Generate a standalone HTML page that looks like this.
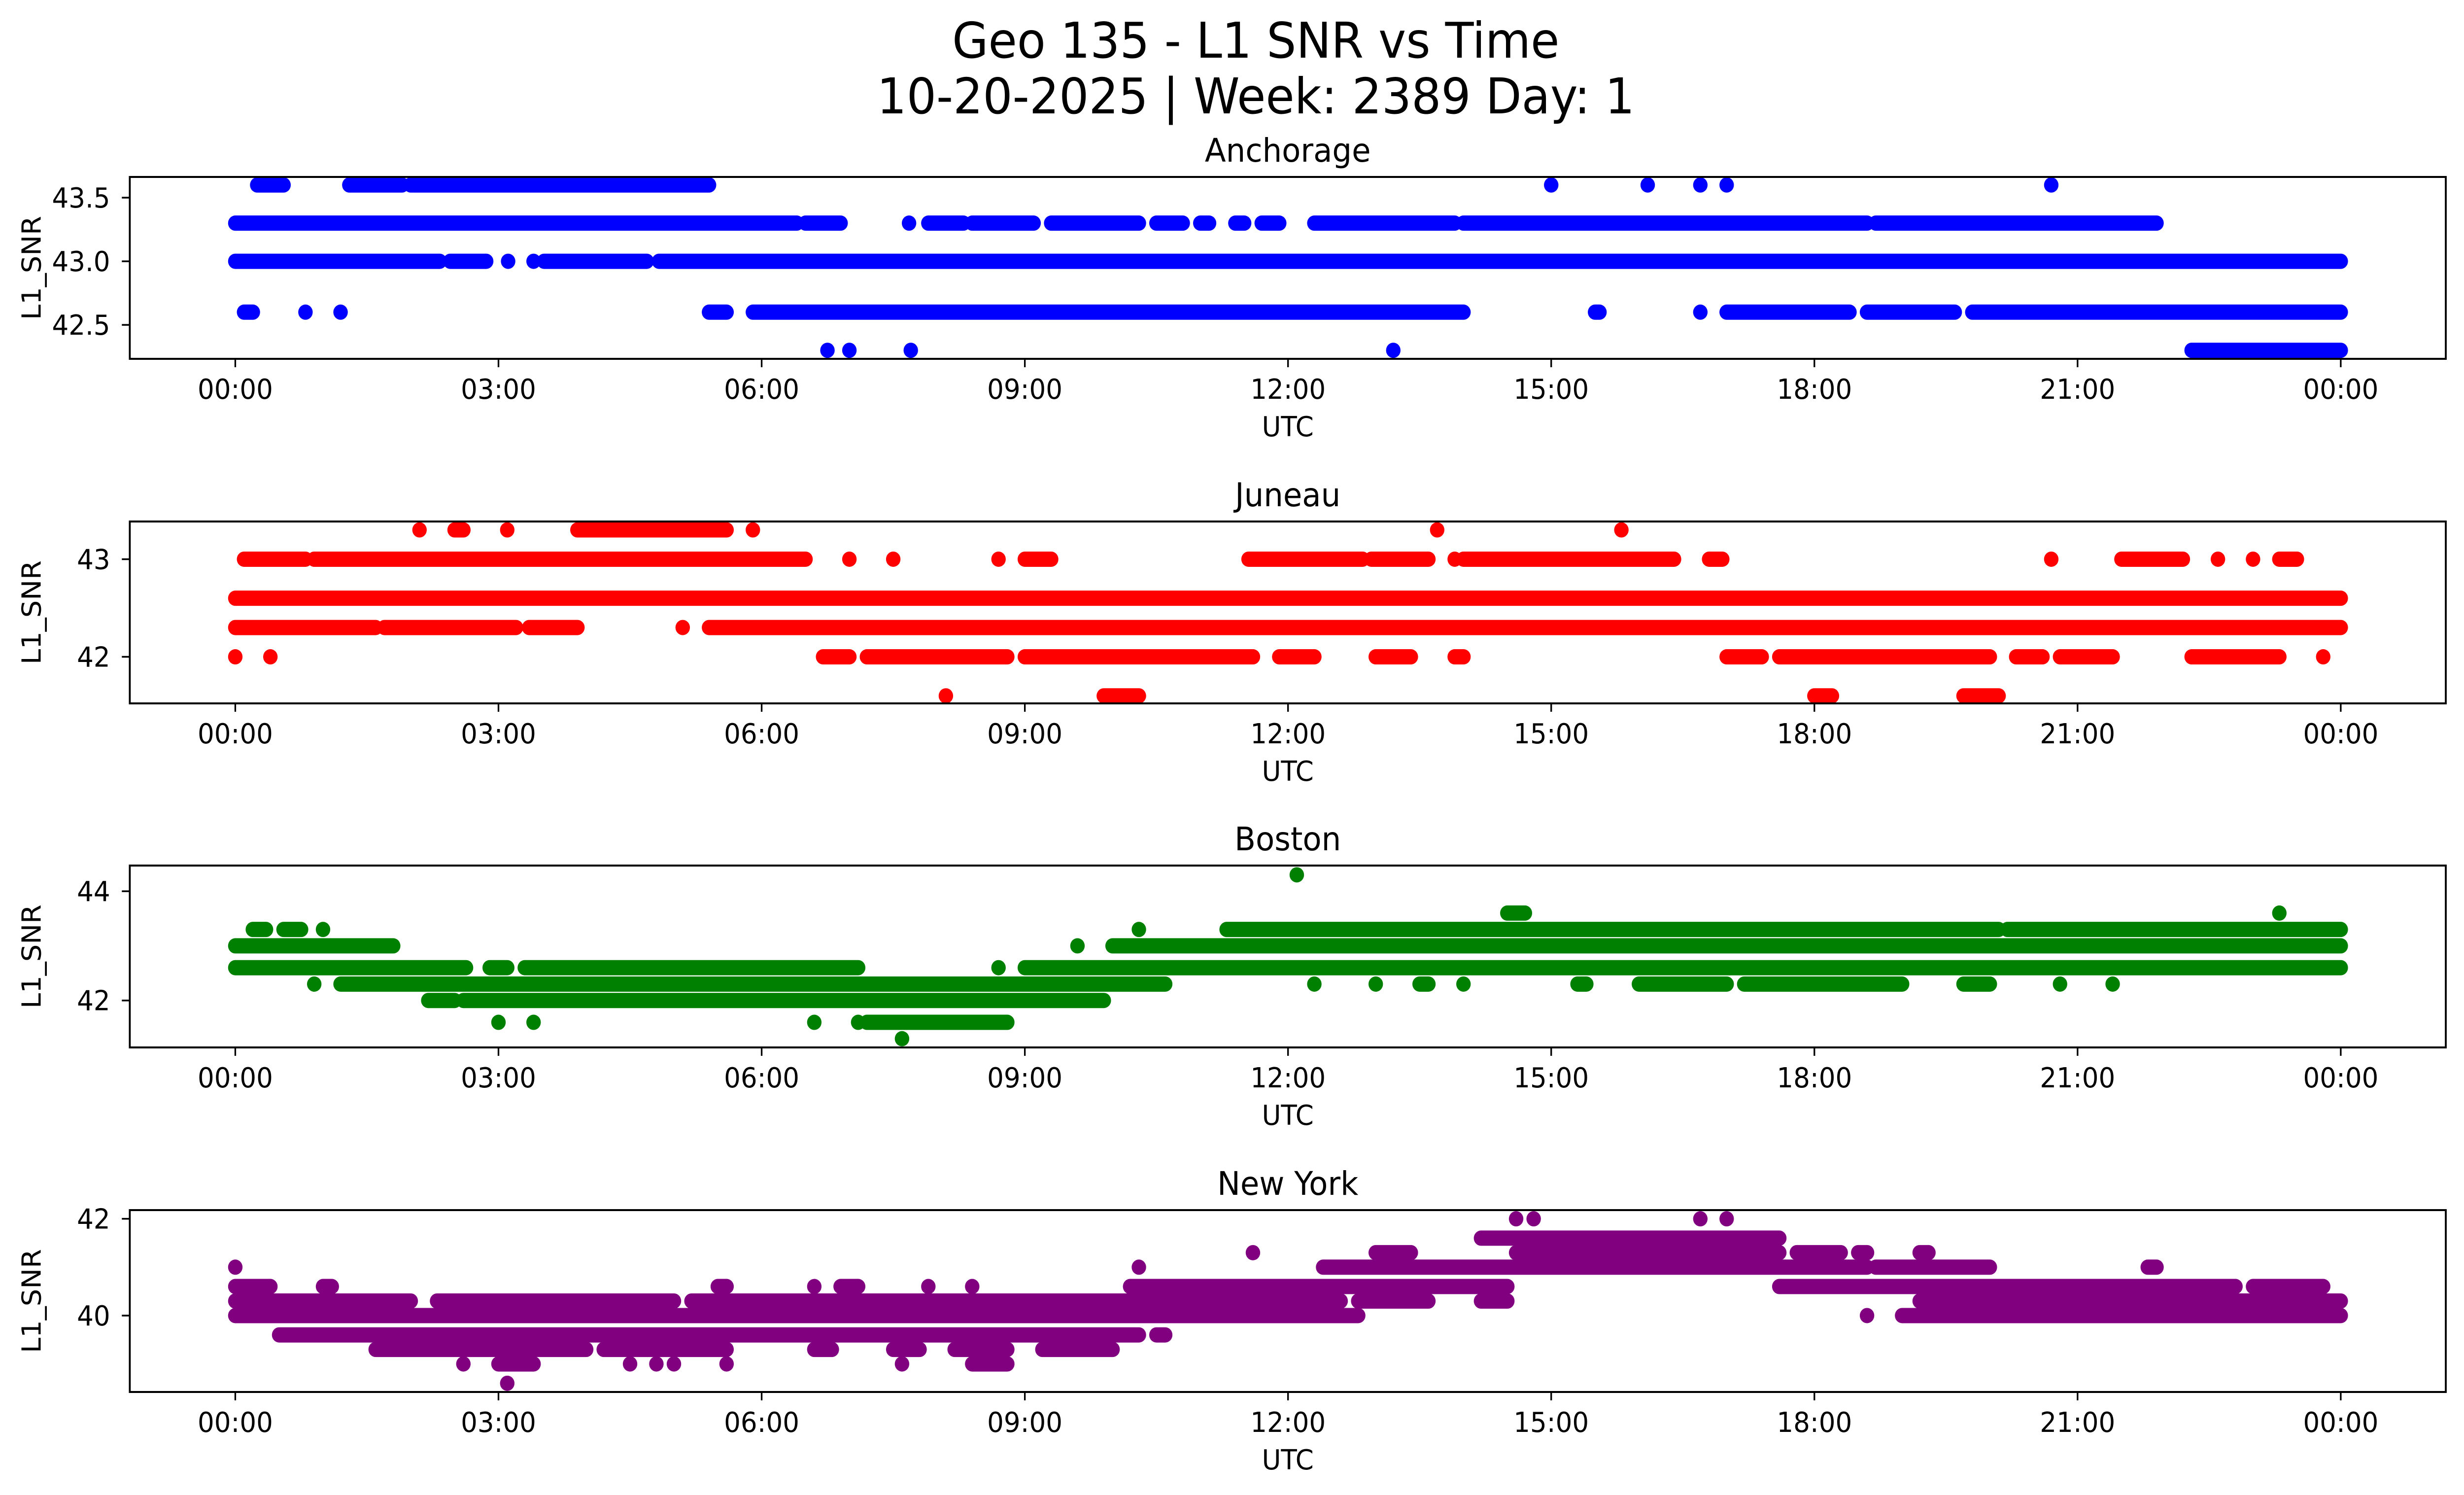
<!DOCTYPE html>
<html><head><meta charset="utf-8"><style>
html,body{margin:0;padding:0;background:#fff;overflow:hidden;width:100%;height:100%}
svg{display:block;position:absolute;left:0;top:0;width:100vw;height:100vh}
text{font-family:"DejaVu Sans","Liberation Sans",sans-serif;fill:#000}
</style></head><body>
<svg id="fig" xmlns="http://www.w3.org/2000/svg" viewBox="0 0 5278 3033" preserveAspectRatio="none">
<rect width="5278" height="3033" fill="#fff"/>
<text x="2690" y="117" font-size="100" text-anchor="middle">Geo 135 - L1 SNR vs Time</text>
<text x="2690" y="230" font-size="100" text-anchor="middle">10-20-2025 | Week: 2389 Day: 1</text>
<g id="plots"></g>
</svg>
<script>
// ---- data (hours UTC, SNR levels, runs of consecutive samples [startHour,endHour]) ----
const stations = ["Anchorage","Juneau","Boston","New York"];
const colors = ["#0000ff","#ff0000","#008000","#800080"];
const xTickLabels = ["00:00","03:00","06:00","09:00","12:00","15:00","18:00","21:00","00:00"];
const xTickHours = [0,3,6,9,12,15,18,21,24];

const anchLevels = [42.3,42.6,43.0,43.3,43.6];
const anchRuns = [
 [[6.75,6.75],[7.0,7.0],[7.7,7.7],[13.2,13.2],[22.3,24]],
 [[0.1,0.2],[0.8,0.8],[1.2,1.2],[5.4,5.6],[5.9,14.0],[15.5,15.55],[16.7,16.7],[17.0,18.4],[18.6,19.6],[19.8,24]],
 [[0,2.33],[2.45,2.86],[3.11,3.11],[3.4,3.4],[3.52,4.69],[4.83,24]],
 [[0,6.4],[6.5,6.9],[7.68,7.68],[7.9,8.3],[8.4,9.1],[9.3,10.3],[10.5,10.8],[11.0,11.1],[11.4,11.5],[11.7,11.9],[12.3,13.9],[14.0,18.6],[18.7,21.9]],
 [[0.25,0.55],[1.3,1.9],[2.0,5.4],[15.0,15.0],[16.1,16.1],[16.7,16.7],[17.0,17.0],[20.7,20.7]]
];
const junLevels = [41.6,42.0,42.3,42.6,43.0,43.3];
const junRuns = [
 [[8.1,8.1],[9.9,10.3],[18.0,18.2],[19.7,20.1]],
 [[0,0],[0.4,0.4],[6.7,7.0],[7.2,8.8],[9.0,11.6],[11.9,12.3],[13.0,13.4],[13.9,14.0],[17.0,17.4],[17.6,20.0],[20.3,20.6],[20.8,21.4],[22.3,23.3],[23.8,23.8]],
 [[0,1.6],[1.7,3.2],[3.35,3.9],[5.1,5.1],[5.4,24]],
 [[0,24]],
 [[0.1,0.8],[0.9,6.5],[7.0,7.0],[7.5,7.5],[8.7,8.7],[9.0,9.3],[11.55,12.85],[12.95,13.6],[13.9,13.9],[14.0,16.4],[16.8,16.95],[20.7,20.7],[21.5,22.2],[22.6,22.6],[23.0,23.0],[23.3,23.5]],
 [[2.1,2.1],[2.5,2.6],[3.1,3.1],[3.9,5.6],[5.9,5.9],[13.7,13.7],[15.8,15.8]]
];
const bosLevels = [41.3,41.6,42.0,42.3,42.6,43.0,43.3,43.6,44.3];
const bosRuns = [
 [[7.6,7.6]],
 [[3.0,3.0],[3.4,3.4],[6.6,6.6],[7.1,7.1],[7.2,8.8]],
 [[2.2,2.5],[2.6,9.9]],
 [[0.9,0.9],[1.2,10.6],[12.3,12.3],[13.0,13.0],[13.5,13.6],[14.0,14.0],[15.3,15.4],[16.0,17.0],[17.2,19.0],[19.7,20.0],[20.8,20.8],[21.4,21.4]],
 [[0,2.63],[2.9,3.1],[3.3,7.1],[8.7,8.7],[9.0,24]],
 [[0,1.8],[9.6,9.6],[10.0,24]],
 [[0.2,0.35],[0.55,0.75],[1.0,1.0],[10.3,10.3],[11.3,20.1],[20.2,24]],
 [[14.5,14.7],[23.3,23.3]],
 [[12.1,12.1]]
];
const nyLevels = [38.6,39.0,39.3,39.6,40.0,40.3,40.6,41.0,41.3,41.6,42.0];
const nyRuns = [
 [[3.1,3.1]],
 [[2.6,2.6],[3.0,3.4],[4.5,4.5],[4.8,4.8],[5.0,5.0],[5.6,5.6],[7.6,7.6],[8.4,8.8]],
 [[1.6,4.0],[4.2,5.6],[6.6,6.8],[7.5,7.8],[8.2,8.8],[9.2,10.0]],
 [[0.5,10.3],[10.5,10.6]],
 [[0,12.6],[12.6,12.8],[18.6,18.6],[19.0,24]],
 [[0,2.0],[2.3,5.0],[5.2,12.6],[12.8,13.6],[14.2,14.5],[19.2,24]],
 [[0,0.4],[1.0,1.1],[5.5,5.6],[6.6,6.6],[6.9,7.1],[7.9,7.9],[8.4,8.4],[10.2,14.5],[17.6,22.8],[23.0,23.8]],
 [[0,0],[10.3,10.3],[12.4,18.6],[18.7,20.0],[21.8,21.9]],
 [[11.6,11.6],[13.0,13.4],[14.6,17.6],[17.8,18.3],[18.5,18.6],[19.2,19.3]],
 [[14.2,17.6]],
 [[14.6,14.6],[14.8,14.8],[16.7,16.7],[17.0,17.0]]
];
const yLims = [[42.233,43.663],[41.523,43.386],[41.14,44.47],[38.42,42.18]];
const yTicks = [[42.5,43.0,43.5],[42,43],[42,44],[40,42]];
const yTickLabels = [["42.5","43.0","43.5"],["42","43"],["42","44"],["40","42"]];
const allLevels = [anchLevels,junLevels,bosLevels,nyLevels];
const allRuns = [anchRuns,junRuns,bosRuns,nyRuns];

// ---- layout ----
const NS = "http://www.w3.org/2000/svg";
const AX_L = 278, AX_R = 5239, X0 = 504, X24 = 5014, AX_H = 369;
const tops = [359,1058,1756,2455];
const R = 15.5;
function xScale(h){ return X0 + h/24*(X24-X0); }
function mk(tag, attrs, parent){ const e=document.createElementNS(NS,tag); for(const k in attrs) e.setAttribute(k,attrs[k]); parent.appendChild(e); return e; }
const plots = document.getElementById("plots");

for (let p=0;p<4;p++){
  const top = tops[p], bot = top+AX_H;
  const lim = yLims[p];
  const yScale = v => bot - (v-lim[0])/(lim[1]-lim[0])*AX_H;
  const g = mk("g",{},plots);
  
  
  const clipId = "clip"+p;
  const cp = mk("clipPath",{id:clipId},g);
  mk("rect",{x:AX_L,y:top,width:AX_R-AX_L,height:AX_H},cp);
  const marks = mk("g",{"clip-path":"url(#"+clipId+")"},g);
  
  
  const levels = allLevels[p], runs = allRuns[p];
  for (let li=0; li<levels.length; li++){
    const y = yScale(levels[li]);
    for (const run of runs[li]){
      const x1 = xScale(run[0]), x2 = xScale(run[1]);
      let el;
      if (x2-x1 < 0.5){
        el = mk("circle",{cx:x1,cy:y,r:R,fill:colors[p]},marks);
      } else {
        el = mk("line",{x1:x1,y1:y,x2:x2,y2:y,stroke:colors[p],"stroke-width":2*R,"stroke-linecap":"round"},marks);
      }
      
      
    }
  }
  const frame = mk("rect",{x:AX_L,y:top,width:AX_R-AX_L,height:AX_H,fill:"none",stroke:"#000","stroke-width":4},g);
  
  
  for (let i=0;i<xTickHours.length;i++){
    const x = xScale(xTickHours[i]);
    mk("line",{x1:x,y1:bot,x2:x,y2:bot+17,stroke:"#000","stroke-width":3.5},g);
    const t = mk("text",{x:x,y:bot+81,"font-size":56,"text-anchor":"middle"},g);
    t.textContent = xTickLabels[i];
    
    
  }
  for (let i=0;i<yTicks[p].length;i++){
    const y = yScale(yTicks[p][i]);
    mk("line",{x1:AX_L-17,y1:y,x2:AX_L,y2:y,stroke:"#000","stroke-width":3.5},g);
    const t = mk("text",{x:AX_L-42,y:y+20,"font-size":56,"text-anchor":"end"},g);
    t.textContent = yTickLabels[p][i];
    
    
  }
  const xl = mk("text",{x:(AX_L+AX_R)/2,y:bot+157,"font-size":56,"text-anchor":"middle"},g);
  xl.textContent = "UTC";
  
  
  const yl = mk("text",{x:0,y:0,"font-size":56,"text-anchor":"middle",transform:"translate(87,"+(top+AX_H/2)+") rotate(-90)"},g);
  yl.textContent = "L1_SNR";
  
  
  const st = mk("text",{x:(AX_L+AX_R)/2,y:top-31,"font-size":66,"text-anchor":"middle"},g);
  st.textContent = stations[p];
  
  
}
</script>
</body></html>
